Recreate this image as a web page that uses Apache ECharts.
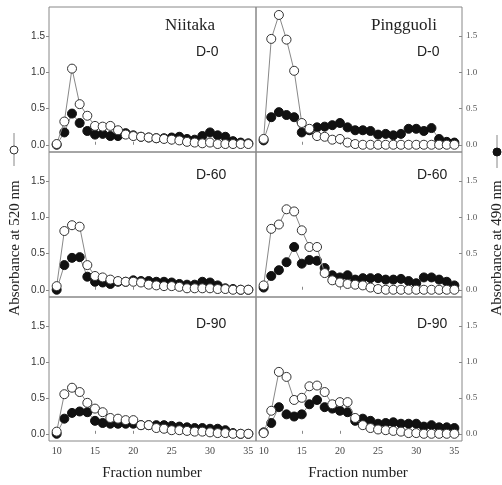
<!DOCTYPE html>
<html>
<head>
<meta charset="utf-8">
<script src="https://cdn.jsdelivr.net/npm/echarts@6/dist/echarts.min.js"></script>
<style>
  html, body { margin: 0; padding: 0; background: #fff; }
  #main { width: 502px; height: 485px; }
</style>
</head>
<body>
<div id="main"></div>
<script>
// fraction numbers shared by every panel
var fractions = [10,11,12,13,14,15,16,17,18,19,20,21,22,23,24,25,26,27,28,29,30,31,32,33,34,35];
var xTicks = [10, 15, 20, 25, 30, 35];
var yTicks = [0, 0.5, 1.0, 1.5];

// Niitaka, absorbance at 520 nm (open) and 490 nm (filled)
var niitakaD0_520 = [0.01,0.32,1.05,0.56,0.40,0.26,0.25,0.26,0.20,0.14,0.12,0.11,0.10,0.09,0.08,0.07,0.06,0.04,0.03,0.02,0.03,0.01,0.01,0.01,0.01,0.01];
var niitakaD0_490 = [0.00,0.17,0.43,0.30,0.19,0.14,0.15,0.12,0.12,0.16,0.13,0.11,0.10,0.09,0.09,0.10,0.11,0.08,0.07,0.12,0.17,0.13,0.11,0.05,0.03,0.02];
var niitakaD60_520 = [0.05,0.81,0.89,0.87,0.34,0.19,0.17,0.14,0.12,0.11,0.11,0.10,0.07,0.06,0.05,0.05,0.04,0.02,0.02,0.02,0.02,0.01,0.01,0.00,0.00,0.00];
var niitakaD60_490 = [0.00,0.34,0.44,0.45,0.18,0.11,0.10,0.08,0.11,0.11,0.13,0.12,0.12,0.11,0.11,0.10,0.08,0.07,0.07,0.11,0.10,0.06,0.02,0.01,0.00,0.00];
var niitakaD90_520 = [0.03,0.55,0.64,0.58,0.43,0.35,0.30,0.22,0.21,0.19,0.19,0.12,0.12,0.08,0.07,0.05,0.05,0.04,0.03,0.03,0.02,0.01,0.01,0.00,0.00,0.00];
var niitakaD90_490 = [0.00,0.21,0.29,0.31,0.30,0.18,0.15,0.14,0.14,0.14,0.14,0.12,0.12,0.12,0.12,0.11,0.10,0.09,0.08,0.08,0.07,0.07,0.05,0.01,0.00,0.00];

// Pingguoli
var pingD0_520 = [0.08,1.46,1.79,1.45,1.02,0.30,0.22,0.12,0.11,0.07,0.08,0.03,0.01,0.00,0.00,0.00,0.00,0.00,0.00,0.00,0.00,0.00,0.00,0.00,0.00,0.00];
var pingD0_490 = [0.06,0.38,0.45,0.41,0.38,0.17,0.20,0.24,0.25,0.27,0.30,0.24,0.20,0.20,0.19,0.14,0.15,0.13,0.15,0.22,0.22,0.19,0.23,0.08,0.04,0.03];
var pingD60_520 = [0.06,0.84,0.90,1.11,1.08,0.82,0.59,0.59,0.23,0.13,0.10,0.08,0.07,0.06,0.03,0.01,0.00,0.00,0.00,0.00,0.00,0.00,0.00,0.00,0.00,0.00];
var pingD60_490 = [0.03,0.19,0.27,0.38,0.59,0.36,0.41,0.40,0.30,0.20,0.17,0.20,0.14,0.16,0.16,0.16,0.14,0.14,0.15,0.12,0.09,0.17,0.17,0.14,0.11,0.06];
var pingD90_520 = [0.01,0.32,0.86,0.79,0.47,0.50,0.66,0.67,0.58,0.41,0.44,0.44,0.22,0.12,0.08,0.06,0.05,0.04,0.03,0.01,0.01,0.00,0.00,0.00,0.00,0.00];
var pingD90_490 = [0.02,0.15,0.37,0.27,0.24,0.27,0.41,0.47,0.37,0.35,0.32,0.30,0.18,0.21,0.18,0.14,0.15,0.16,0.14,0.14,0.14,0.10,0.12,0.09,0.09,0.08];

var panelLabels = ['D-0', 'D-60', 'D-90'];

var chart = echarts.init(document.getElementById('main'));

var cols = [{ left: 49, width: 207 }, { left: 256, width: 206 }];
var rows = [{ top: 7, height: 145 }, { top: 152, height: 145 }, { top: 297, height: 144 }];
var panels = [
  [niitakaD0_520, niitakaD0_490], [pingD0_520, pingD0_490],
  [niitakaD60_520, niitakaD60_490], [pingD60_520, pingD60_490],
  [niitakaD90_520, niitakaD90_490], [pingD90_520, pingD90_490]
];

function pairs(vals) {
  return fractions.map(function (f, i) { return [f, vals[i]]; });
}

var grids = [], xAxes = [], yAxes = [], series = [];
panels.forEach(function (p, i) {
  var r = Math.floor(i / 2), c = i % 2;
  grids.push({
    left: cols[c].left, width: cols[c].width,
    top: rows[r].top, height: rows[r].height,
    show: true, borderColor: '#888', borderWidth: 1
  });
  xAxes.push({
    type: 'value', gridIndex: i, min: 9, max: 36,
    axisLine: { show: false },
    splitLine: { show: false },
    axisTick: { show: true, inside: true, length: 3, customValues: xTicks, lineStyle: { color: '#888' } },
    axisLabel: {
      show: r === 2, customValues: xTicks, margin: 5,
      fontFamily: 'Liberation Serif', fontSize: 10, color: '#444'
    }
  });
  yAxes.push({
    type: 'value', gridIndex: i, min: -0.1, max: 1.9,
    position: c === 0 ? 'left' : 'right',
    axisLine: { show: false },
    splitLine: { show: false },
    axisTick: { show: true, inside: c === 1, length: 3, customValues: yTicks, lineStyle: { color: '#888' } },
    axisLabel: {
      customValues: yTicks, margin: 4,
      formatter: function (v) { return v.toFixed(1); },
      fontFamily: c === 0 ? 'Liberation Sans' : 'Liberation Serif',
      fontSize: c === 0 ? 10 : 9, color: c === 0 ? '#333' : '#555'
    }
  });
  series.push({
    type: 'line', xAxisIndex: i, yAxisIndex: i, data: pairs(p[1]),
    symbol: 'circle', symbolSize: 9, z: 2,
    lineStyle: { color: '#888', width: 1 },
    itemStyle: { color: '#111', borderColor: '#111', borderWidth: 1 }
  });
  series.push({
    type: 'line', xAxisIndex: i, yAxisIndex: i, data: pairs(p[0]),
    symbol: 'circle', symbolSize: 9, z: 3,
    lineStyle: { color: '#888', width: 1 },
    itemStyle: { color: '#fff', borderColor: '#333', borderWidth: 1 }
  });
});

var serif = 'Liberation Serif';
var graphics = [
  { type: 'text', x: 190, y: 26, style: { text: 'Niitaka', font: '17px ' + serif, fill: '#222', align: 'center', verticalAlign: 'middle' } },
  { type: 'text', x: 404, y: 26, style: { text: 'Pingguoli', font: '17px ' + serif, fill: '#222', align: 'center', verticalAlign: 'middle' } },
  { type: 'text', x: 152, y: 473, style: { text: 'Fraction number', font: '15px ' + serif, fill: '#222', align: 'center', verticalAlign: 'middle' } },
  { type: 'text', x: 358, y: 473, style: { text: 'Fraction number', font: '15px ' + serif, fill: '#222', align: 'center', verticalAlign: 'middle' } },
  { type: 'text', x: 15, y: 248, rotation: Math.PI / 2, style: { text: 'Absorbance at 520 nm', font: '15px ' + serif, fill: '#222', align: 'center', verticalAlign: 'middle' } },
  { type: 'text', x: 497, y: 248, rotation: Math.PI / 2, style: { text: 'Absorbance at 490 nm', font: '15px ' + serif, fill: '#222', align: 'center', verticalAlign: 'middle' } },
  { type: 'line', shape: { x1: 14, y1: 133, x2: 14, y2: 166 }, style: { stroke: '#888', lineWidth: 1 } },
  { type: 'circle', shape: { cx: 14, cy: 150, r: 4 }, style: { fill: '#fff', stroke: '#333', lineWidth: 1 } },
  { type: 'line', shape: { x1: 497, y1: 135, x2: 497, y2: 168 }, style: { stroke: '#888', lineWidth: 1 } },
  { type: 'circle', shape: { cx: 497, cy: 152, r: 4 }, style: { fill: '#111', stroke: '#111', lineWidth: 1 } }
];
var dLeft = [196, 417], dY = [52, 175, 324];
for (var r = 0; r < 3; r++) {
  for (var c = 0; c < 2; c++) {
    graphics.push({ type: 'text', x: dLeft[c], y: dY[r], style: { text: panelLabels[r], font: '14px Liberation Sans', fill: '#222', align: 'left', verticalAlign: 'middle' } });
  }
}

chart.setOption({
  animation: false,
  backgroundColor: '#fff',
  grid: grids,
  xAxis: xAxes,
  yAxis: yAxes,
  series: series,
  graphic: graphics
});
</script>
</body>
</html>
